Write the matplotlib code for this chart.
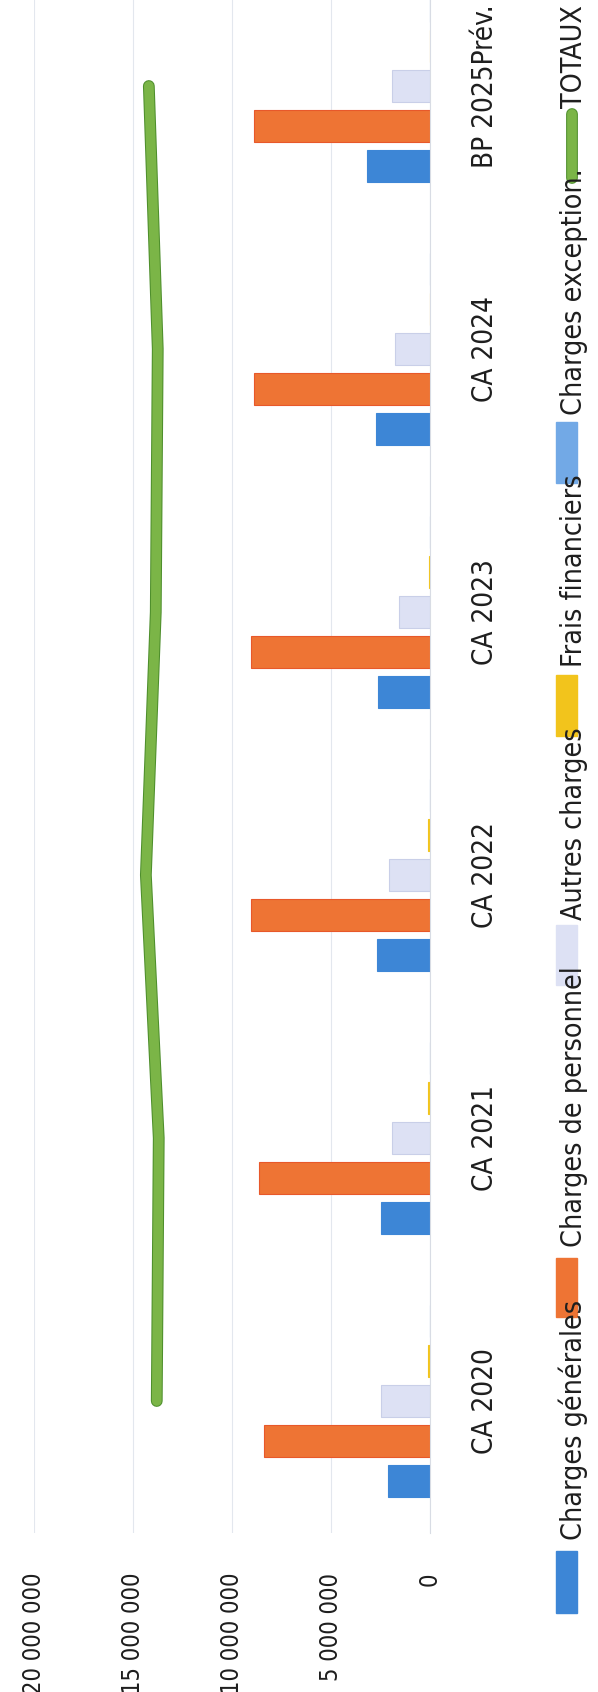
import numpy as np
import matplotlib.pyplot as plt
import matplotlib.patheffects as pe
from matplotlib.patches import Rectangle
from matplotlib.lines import Line2D
from matplotlib.transforms import blended_transform_factory

plt.rcParams['font.family'] = ['Liberation Sans Narrow', 'DejaVu Sans']
plt.rcParams['font.stretch'] = 'condensed'

# budget lines per year (euros)
categories = ["CA 2020", "CA 2021", "CA 2022", "CA 2023", "CA 2024", "BP 2025Prév."]
charges_generales = [2.12e6, 2.47e6, 2.66e6, 2.64e6, 2.73e6, 3.16e6]
charges_personnel = [8.38e6, 8.62e6, 9.02e6, 9.04e6, 8.89e6, 8.89e6]
autres_charges = [2.47e6, 1.94e6, 2.09e6, 1.55e6, 1.77e6, 1.90e6]
frais_financiers = [0.10e6, 0.09e6, 0.08e6, 0.07e6, 0.0, 0.0]
charges_exception = [0.0, 0.0, 0.0, 0.0, 0.0, 0.0]
totaux = [13.8e6, 13.7e6, 14.35e6, 13.85e6, 13.75e6, 14.2e6]

series_names = ["Charges générales", "Charges de personnel", "Autres charges",
                "Frais financiers", "Charges exception."]
series_colors = ["#3d86d6", "#ee7434", "#dde1f4", "#f2c41c", "#72a9e6"]
series_edges = ["#3d86d6", "#e8582a", "#c9cfe8", "#f2c41c", "#72a9e6"]
total_name = "TOTAUX"
total_color = "#7bb547"

W, H = 598, 1692
fig = plt.figure(figsize=(W / 100, H / 100), dpi=100)


def fx(px):
    return px / W


def fy(py):
    # pixel rows counted from the top
    return 1 - py / H


ax = fig.add_axes([fx(34), fy(1532.5), fx(430) - fx(34), 1578 / H])

idx = np.arange(len(categories))
slot, bar_h = 0.152, 0.122
all_series = [charges_generales, charges_personnel, autres_charges,
              frais_financiers, charges_exception]
for k, vals in enumerate(all_series):
    ax.barh(idx + (k - 2) * slot, vals, height=bar_h, color=series_colors[k],
            edgecolor=series_edges[k], linewidth=0.8, zorder=2)

ax.plot(totaux, idx, color=total_color, lw=7, solid_capstyle='round', zorder=3,
        path_effects=[pe.Stroke(linewidth=8.5, foreground='#4e8f2c'), pe.Normal()])

ax.set_xlim(20e6, 0)
ax.set_ylim(-0.5, 5.5)
ticks = np.arange(0, 20e6 + 1, 5e6)
ax.set_xticks(ticks)
ax.set_xticklabels([f"{t:,.0f}".replace(",", " ") for t in ticks])
ax.tick_params(axis='x', labelrotation=90, length=0, pad=29, labelsize=17,
               labelcolor='#1e1e1e')
ax.set_yticks([])
ax.grid(axis='x', color='#e3e7ee', lw=0.8, zorder=0)
for side in ['top', 'left', 'bottom']:
    ax.spines[side].set_visible(False)
ax.spines['right'].set_color('#d8dce4')

# category names beside the zero line
trans = blended_transform_factory(fig.transFigure, ax.transData)
for i, lab in enumerate(categories):
    ax.text(fx(493), i, lab, transform=trans, rotation=90, rotation_mode='anchor',
            ha='center', va='baseline', fontsize=20, color='#1e1e1e')

# legend strip along the right edge, read bottom to top
patch_spans = [(1551, 1613), (1258, 1317), (925, 985), (675, 736), (422, 483)]
text_starts = [1540, 1247, 920, 667, 415]
for name, col, (top, bot), ts in zip(series_names, series_colors, patch_spans, text_starts):
    fig.add_artist(Rectangle((fx(556), fy(bot)), fx(21), (bot - top) / H,
                             transform=fig.transFigure, color=col))
    fig.text(fx(582), fy(ts), name, rotation=90, rotation_mode='anchor',
             ha='left', va='baseline', fontsize=20.5, color='#1e1e1e')

fig.add_artist(Line2D([fx(572), fx(572)], [fy(178), fy(114)], lw=7, color=total_color,
                      solid_capstyle='round', transform=fig.transFigure,
                      path_effects=[pe.Stroke(linewidth=8.5, foreground='#4e8f2c'), pe.Normal()]))
fig.text(fx(582), fy(108), total_name, rotation=90, rotation_mode='anchor',
         ha='left', va='baseline', fontsize=20.5, color='#1e1e1e')

fig.savefig("out.png", dpi=100, facecolor='white')
